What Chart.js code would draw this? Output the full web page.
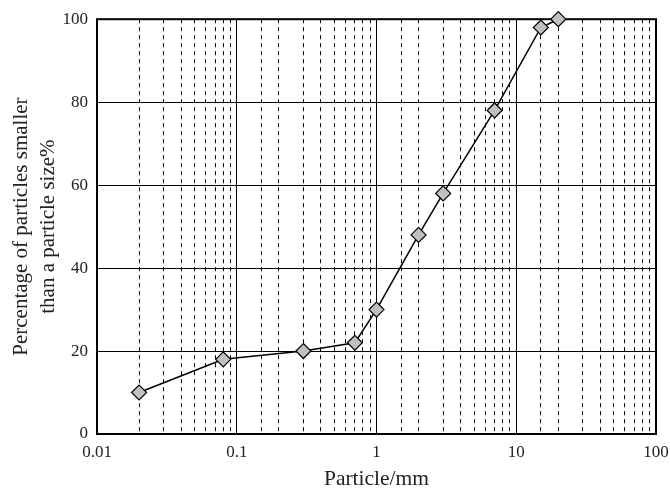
<!DOCTYPE html>
<html>
<head>
<meta charset="utf-8">
<script src="https://cdn.jsdelivr.net/npm/chart.js@4.4.0/dist/chart.umd.min.js"></script>
<style>
  html, body { margin: 0; padding: 0; background: #fff; }
</style>
</head>
<body>
<canvas id="myChart" width="670" height="490"></canvas>
<script>
// particle size (mm) and passing percentage
const particleSizes = [0.02, 0.08, 0.3, 0.7, 1, 2, 3, 7, 15, 20];
const percentPassing = [10, 18, 20, 22, 30, 48, 58, 78, 98, 100];

// axis labels
const xTickLabels = ['0.01', '0.1', '1', '10', '100'];
const xTitle = 'Particle/mm';
const yTitle = ['Percentage of particles smaller', 'than a particle size%'];

const serif = "'Liberation Serif', 'DejaVu Serif', serif";

function isDecade(v) {
    const l = Math.log10(v);
    return Math.abs(l - Math.round(l)) < 1e-6;
}

// frame round the plot area, drawn before the line so markers sit on top
const framePlugin = {
    id: 'frame',
    beforeDatasetsDraw(chart) {
        const a = chart.chartArea;
        const ctx = chart.ctx;
        ctx.save();
        ctx.strokeStyle = '#000';
        ctx.lineWidth = 2;
        ctx.strokeRect(a.left, a.top, a.right - a.left, a.bottom - a.top);
        ctx.restore();
    }
};

const points = particleSizes.map((x, i) => ({ x: x, y: percentPassing[i] }));

let myChart = new Chart(document.getElementById('myChart').getContext('2d'), {
    type: 'line',
    data: {
        datasets: [{
            data: points,
            borderColor: '#000',
            borderWidth: 1.5,
            tension: 0,
            fill: false,
            pointStyle: 'rectRot',
            pointRadius: 7.5,
            pointHoverRadius: 7.5,
            pointBackgroundColor: '#c0c0c0',
            pointBorderColor: '#000',
            pointBorderWidth: 1.2,
            clip: false
        }]
    },
    options: {
        responsive: false,
        animation: false,
        layout: { padding: { top: 19, right: 14, bottom: 0, left: 0 } },
        plugins: {
            legend: { display: false },
            tooltip: { enabled: false }
        },
        scales: {
            x: {
                type: 'logarithmic',
                min: 0.01,
                max: 100,
                afterFit: s => {
                    s.height = 56;
                    // let the layout padding decide the plot edges
                    s.paddingLeft = 0;
                    s.paddingRight = 0;
                },
                grid: {
                    color: '#000',
                    lineWidth: 1,
                    drawTicks: false
                },
                border: {
                    display: false,
                    dash: ctx => (ctx.tick && !isDecade(ctx.tick.value)) ? [4, 4] : []
                },
                ticks: {
                    autoSkip: false,
                    maxRotation: 0,
                    padding: 8,
                    color: '#222',
                    font: { family: serif, size: 17 },
                    callback: v => isDecade(v) ? xTickLabels[Math.round(Math.log10(v)) + 2] : ''
                },
                title: {
                    display: true,
                    text: xTitle,
                    color: '#222',
                    padding: 0,
                    font: { family: serif, size: 21.5, lineHeight: 1 }
                }
            },
            y: {
                min: 0,
                max: 100,
                afterFit: s => { s.width = 97; },
                grid: {
                    color: '#000',
                    lineWidth: 1,
                    drawTicks: false
                },
                border: { display: false },
                ticks: {
                    stepSize: 20,
                    padding: 9,
                    color: '#222',
                    font: { family: serif, size: 17 }
                },
                title: {
                    display: true,
                    text: yTitle,
                    color: '#222',
                    padding: { top: 8, bottom: 0 },
                    font: { family: serif, size: 21, lineHeight: 1.27 }
                }
            }
        }
    },
    plugins: [framePlugin]
});
</script>
</body>
</html>
